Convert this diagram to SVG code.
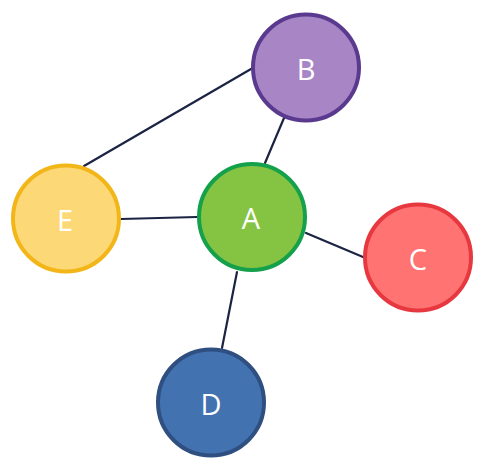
<svg xmlns="http://www.w3.org/2000/svg" width="483" height="467" viewBox="0 0 483 467">
<style>
.edge{stroke:#1b2443;stroke-width:2.2;fill:none;stroke-linecap:round}
.node circle{stroke-width:4}
.node text{font-family:"Open Sans","Noto Sans","Liberation Sans",sans-serif;font-size:29px;fill:#ffffff;text-anchor:middle}
</style>
<rect width="483" height="467" fill="#ffffff"/>
<g id="connectors">
<line class="edge" x1="84" y1="166" x2="251" y2="69"/>
<line class="edge" x1="284" y1="118" x2="265" y2="163"/>
<line class="edge" x1="121" y1="219" x2="197" y2="217"/>
<line class="edge" x1="306" y1="233" x2="363" y2="257"/>
<line class="edge" x1="237" y1="272" x2="222" y2="348"/>
</g>
<g id="node-B" class="node"><circle cx="306" cy="67.5" r="53" fill="#a886c6" stroke="#5a3a8e"/><text x="306" y="79.5">B</text></g>
<g id="node-A" class="node"><circle cx="252" cy="217" r="53" fill="#85c443" stroke="#15a04b"/><text x="251" y="229">A</text></g>
<g id="node-E" class="node"><circle cx="66" cy="218.5" r="53" fill="#fdd877" stroke="#f2b619"/><text x="65" y="230.5">E</text></g>
<g id="node-C" class="node"><circle cx="418" cy="257.5" r="53" fill="#ff7373" stroke="#e8383f"/><text x="418" y="269.5">C</text></g>
<g id="node-D" class="node"><circle cx="211" cy="402.5" r="53" fill="#4372b0" stroke="#2e4f80"/><text x="211" y="414.5">D</text></g>
</svg>
